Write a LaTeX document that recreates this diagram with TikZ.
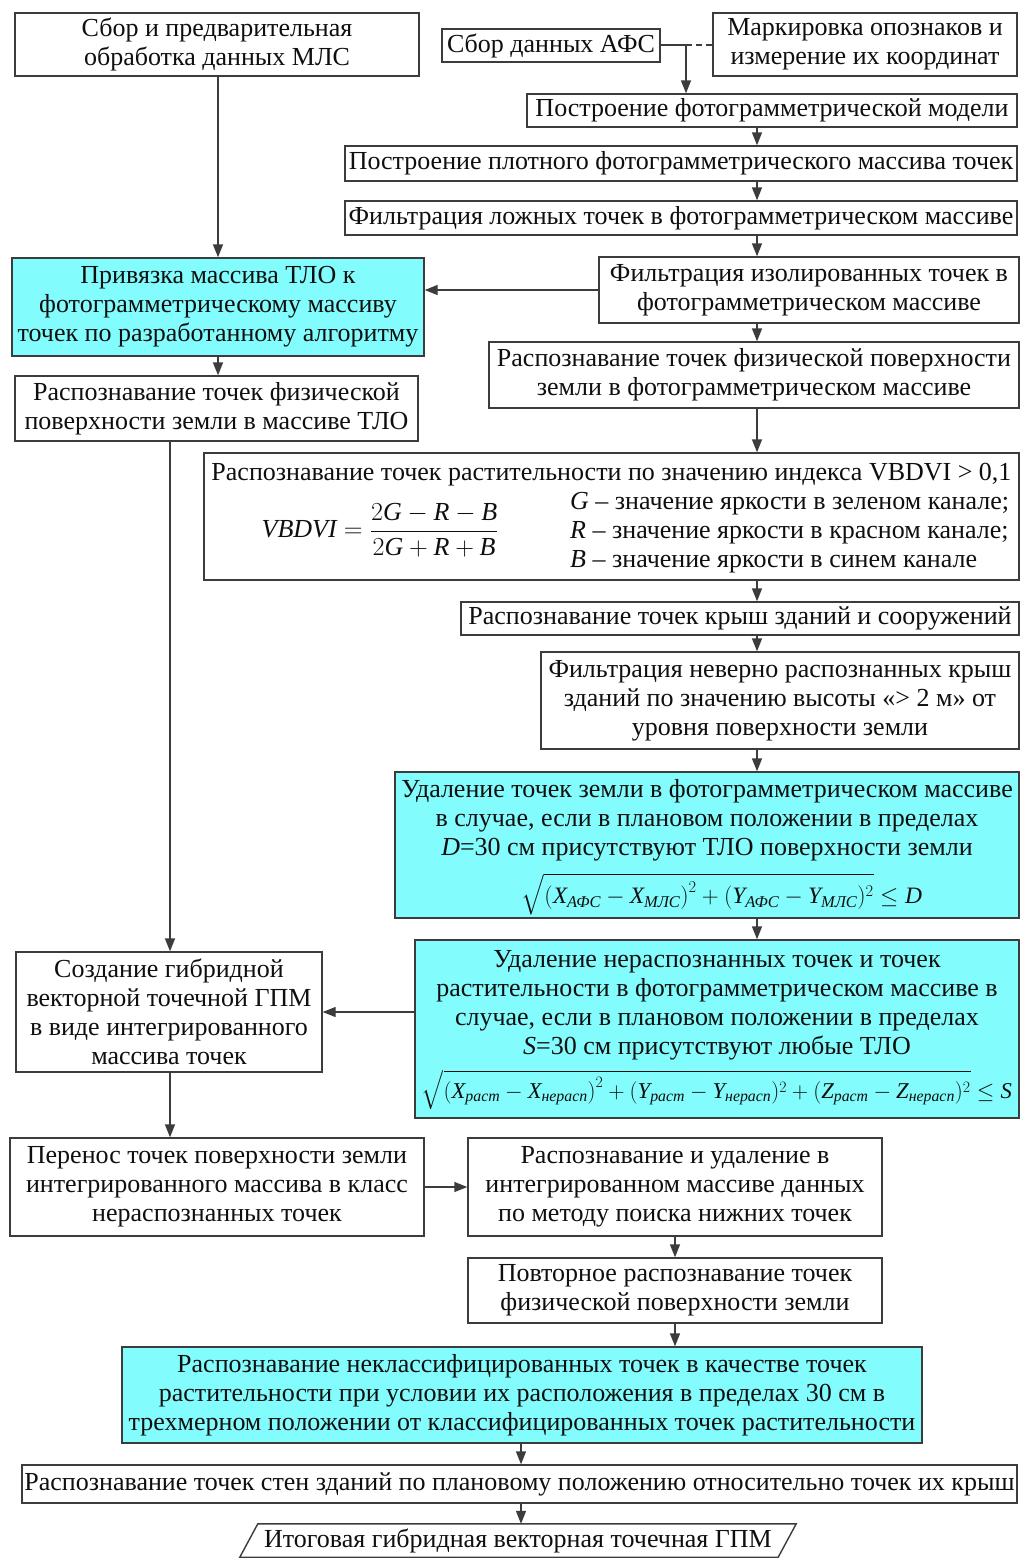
\RequirePackage{fix-cm}
\documentclass[tikz,border=0pt]{standalone}
\usepackage{amsmath}
\usepackage{graphicx}
\usepackage{fontspec}
\setmainfont{Liberation Serif}
\usetikzlibrary{arrows.meta,calc}

\definecolor{boxline}{RGB}{60,60,60}
\definecolor{inktext}{RGB}{15,15,15}
\definecolor{hilite}{RGB}{130,252,252}
\newcommand{\mv}[1]{\textit{#1}}

\tikzset{
  stepbox/.style={draw=boxline, line width=1.4pt, fill=white, inner sep=0pt,
    align=center, text=inktext,
    font=\fontsize{26}{29}\selectfont},
  keybox/.style={stepbox, fill=hilite},
  plain/.style={inner sep=0pt, text=inktext, align=center,
    font=\fontsize{26}{29}\selectfont},
  link/.style={draw=boxline, line width=1.4pt},
  arr/.style={link, -{Triangle[length=13pt,width=10pt]}}
}

\begin{document}
\begin{tikzpicture}[x=1pt,y=-1pt]
\useasboundingbox[fill=white] (0,0) rectangle (1021,1559);

% --- upper row
\node[stepbox, minimum width=404, minimum height=63] (mls) at (217,44.5)
  {Сбор и предварительная\\обработка данных МЛС};
\node[stepbox, minimum width=218, minimum height=33] (afs) at (551,45.5)
  {Сбор данных АФС};
\node[stepbox, minimum width=304, minimum height=63] (mark) at (865,44.5)
  {Маркировка опознаков и\\измерение их координат};

% --- photogrammetric branch
\node[stepbox, minimum width=490, minimum height=33] (model) at (772,110.5)
  {Построение фотограмметрической модели};
\node[stepbox, minimum width=672, minimum height=35] (dense) at (681,163.5)
  {Построение плотного фотограмметрического массива точек};
\node[stepbox, minimum width=672, minimum height=34] (falsep) at (681,218)
  {Фильтрация ложных точек в фотограмметрическом массиве};
\node[stepbox, minimum width=420, minimum height=66] (iso) at (809,290)
  {Фильтрация изолированных точек в\\фотограмметрическом массиве};
\node[stepbox, minimum width=530, minimum height=66] (ground) at (754,375)
  {Распознавание точек физической поверхности\\земли в фотограмметрическом массиве};

% --- vegetation index box
\node[stepbox, minimum width=815, minimum height=127] (veg) at (611.5,516.5) {};
\node[plain] (vegtitle) at (611.5,475)
  {Распознавание точек растительности по значению индекса VBDVI > 0,1};
\node[plain] (vegformula) at (380,530)
  {$\mv{VBDVI}=\dfrac{2\mv{G}-\mv{R}-\mv{B}}{2\mv{G}+\mv{R}+\mv{B}}$};
\node[plain, anchor=west, align=left] (veglegend) at (570,533)
  {\mv{G} – значение яркости в зеленом канале;\\
   \mv{R} – значение яркости в красном канале;\\
   \mv{B} – значение яркости в синем канале};

\node[stepbox, minimum width=558, minimum height=33] (roofs) at (740,618.5)
  {Распознавание точек крыш зданий и сооружений};
\node[stepbox, minimum width=478, minimum height=97] (froofs) at (780,700.5)
  {Фильтрация неверно распознанных крыш\\зданий по значению высоты «> 2 м» от\\уровня поверхности земли};

% --- ground points removal (text and distance condition)
\node[keybox, minimum width=624, minimum height=146] (delg) at (707,845) {};
\node[plain] (delgtext) at (707,820)
  {Удаление точек земли в фотограмметрическом массиве\\
   в случае, если в плановом положении в пределах\\
   \mv{D}=30 см присутствуют ТЛО поверхности земли};
\node[plain] (delgformula) at (722,894)
  {\resizebox{400pt}{!}{$\sqrt{\left(\mv{X}_{\mv{АФС}}-\mv{X}_{\mv{МЛС}}\right)^2+(\mv{Y}_{\mv{АФС}}-\mv{Y}_{\mv{МЛС}})^2}\le \mv{D}$}};

% --- unrecognised and vegetation points removal
\node[keybox, minimum width=604, minimum height=178] (delu) at (717,1029) {};
\node[plain] (delutext) at (717,1005)
  {Удаление нераспознанных точек и точек\\
   растительности в фотограмметрическом массиве в\\
   случае, если в плановом положении в пределах\\
   \mv{S}=30 см присутствуют любые ТЛО};
\node[plain] (deluformula) at (717,1090)
  {\resizebox{590pt}{!}{$\sqrt{\left(\mv{X}_{\mv{раст}}-\mv{X}_{\mv{нерасп}}\right)^2+(\mv{Y}_{\mv{раст}}-\mv{Y}_{\mv{нерасп}})^2+(\mv{Z}_{\mv{раст}}-\mv{Z}_{\mv{нерасп}})^2}\le \mv{S}$}};

% --- laser scanning branch
\node[keybox, minimum width=412, minimum height=98] (bind) at (218,307)
  {Привязка массива ТЛО к\\фотограмметрическому массиву\\точек по разработанному алгоритму};
\node[stepbox, minimum width=403, minimum height=65] (tlo) at (216.5,408.5)
  {Распознавание точек физической\\поверхности земли в массиве ТЛО};
\node[stepbox, minimum width=306, minimum height=120] (hyb) at (169,1012)
  {Создание гибридной\\векторной точечной ГПМ\\в виде интегрированного\\массива точек};

% --- lower part
\node[stepbox, minimum width=414, minimum height=98] (transfer) at (217,1187)
  {Перенос точек поверхности земли\\интегрированного массива в класс\\нераспознанных точек};
\node[stepbox, minimum width=414, minimum height=98] (recdel) at (675,1187)
  {Распознавание и удаление в\\интегрированном массиве данных\\по методу поиска нижних точек};
\node[stepbox, minimum width=414, minimum height=65] (again) at (675,1290.5)
  {Повторное распознавание точек\\физической поверхности земли};
\node[keybox, minimum width=800, minimum height=96] (uncl) at (522,1395)
  {Распознавание неклассифицированных точек в качестве точек\\растительности при условии их расположения в пределах 30 см в\\трехмерном положении от классифицированных точек растительности};
\node[stepbox, minimum width=995, minimum height=38] (walls) at (519.5,1484)
  {Распознавание точек стен зданий по плановому положению относительно точек их крыш};
\node[plain, minimum width=538, minimum height=33] (final) at (518,1540.5)
  {Итоговая гибридная векторная точечная ГПМ};
\draw[link] ($(final.north west)+(9,0)$) -- ($(final.north east)+(9,0)$)
  -- ($(final.south east)+(-9,0)$) -- ($(final.south west)+(-9,0)$) -- cycle;

% --- connectors
\coordinate (rc) at (757,0);
\coordinate (lc) at (170,0);
\coordinate (afsj) at (686,45);
\coordinate (mc) at (521,0);

\draw[link] (afs.east |- afsj) -- (afsj);
\draw[link, dashed, dash pattern=on 6pt off 4pt] (afsj) -- (mark.west |- afsj);
\draw[arr] (afsj) -- (afsj |- model.north);

\draw[arr] (rc |- model.south) -- (rc |- dense.north);
\draw[arr] (rc |- dense.south) -- (rc |- falsep.north);
\draw[arr] (rc |- falsep.south) -- (rc |- iso.north);
\draw[arr] (rc |- iso.south) -- (rc |- ground.north);
\draw[arr] (rc |- ground.south) -- (rc |- veg.north);
\draw[arr] (rc |- veg.south) -- (rc |- roofs.north);
\draw[arr] (rc |- roofs.south) -- (rc |- froofs.north);
\draw[arr] (rc |- froofs.south) -- (rc |- delg.north);
\draw[arr] (rc |- delg.south) -- (rc |- delu.north);

\draw[arr] (iso.west) -- (iso.west -| bind.east);
\draw[arr] (mls.south -| bind.north) -- (bind.north);
\draw[arr] (bind.south) -- (bind.south |- tlo.north);
\draw[arr] (lc |- tlo.south) -- (lc |- hyb.north);
\draw[arr] (hyb.east -| delu.west) -- (hyb.east);
\draw[arr] (lc |- hyb.south) -- (lc |- transfer.north);
\draw[arr] (transfer.east) -- (recdel.west);
\draw[arr] (recdel.south) -- (again.north);
\draw[arr] (again.south -| recdel.south) -- (recdel.south |- uncl.north);
\draw[arr] (mc |- uncl.south) -- (mc |- walls.north);
\draw[arr] (mc |- walls.south) -- (mc |- final.north);
\end{tikzpicture}
\end{document}
